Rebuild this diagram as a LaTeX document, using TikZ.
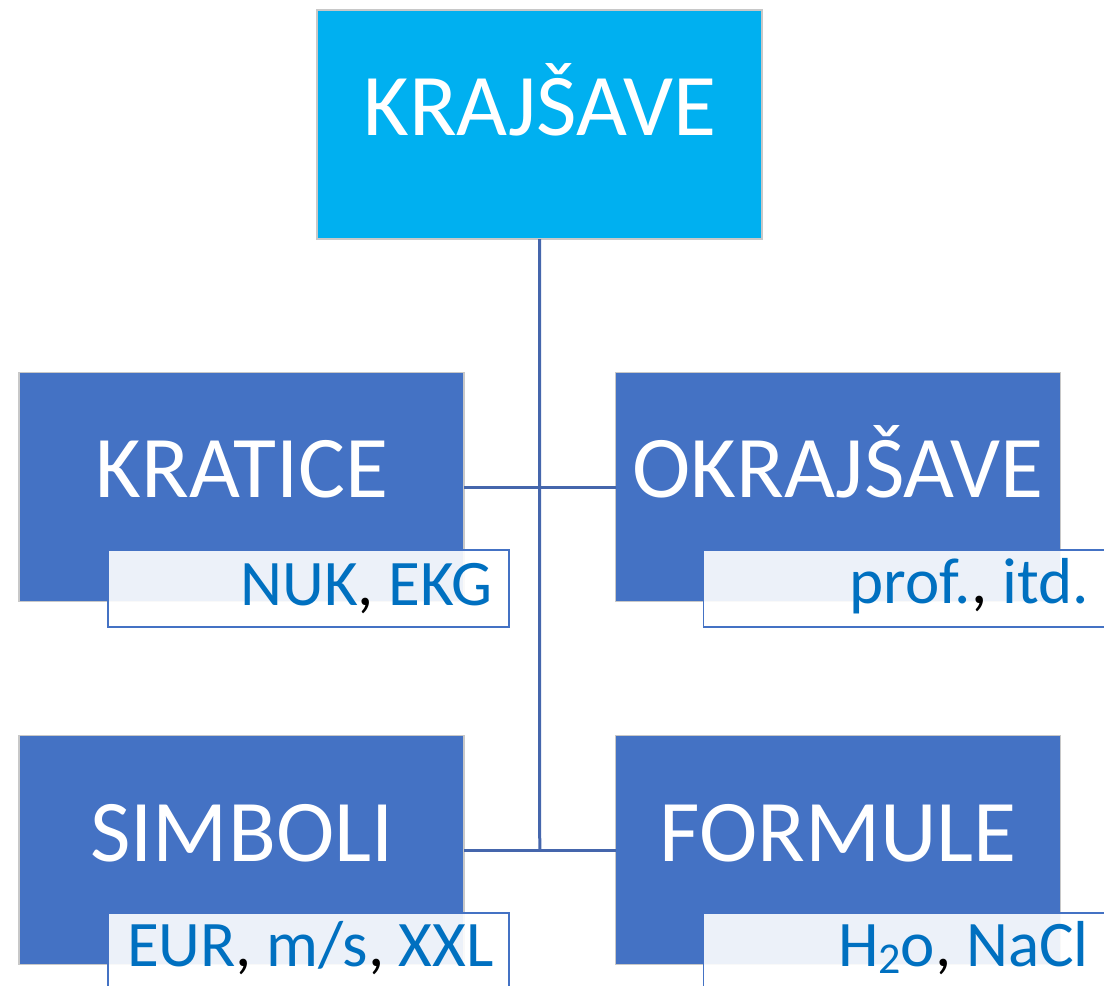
\documentclass[tikz,border=0pt]{standalone}
\usepackage{fontspec}
\setmainfont{Carlito}
\usetikzlibrary{calc}
\definecolor{topblue}{HTML}{00B0F0}
\definecolor{boxblue}{HTML}{4472C4}
\definecolor{txtblue}{HTML}{0070C0}
\definecolor{linkblue}{HTML}{4566AC}
\definecolor{edgegray}{HTML}{C8C8C8}
\begin{document}
\begin{tikzpicture}[x=1pt,y=-1pt,
  bigbox/.style={draw=edgegray,line width=1.2pt,fill=#1,minimum width=445pt,minimum height=229pt,inner sep=0pt,outer sep=0pt},
  subbox/.style={draw=boxblue,line width=1.5pt,fill=white,fill opacity=0.9,text opacity=1,minimum width=401pt,minimum height=77pt,inner sep=0pt,outer sep=0pt},
  bigtxt/.style={text=white,font=\fontsize{88}{100}\selectfont,inner sep=0pt,anchor=base},
  subtxt/.style={text=txtblue,font=\fontsize{65}{75}\selectfont,inner sep=0pt,anchor=base east},
  link/.style={draw=linkblue,line width=3pt}]
\useasboundingbox (0,0) rectangle (1104,986);
\clip (0,0) rectangle (1104,986);
% boxes
\node[bigbox=topblue] (top) at (539.5,124.5) {};
\node[bigbox=boxblue] (kra) at (241.5,487) {};
\node[bigbox=boxblue] (okr) at (838,487) {};
\node[bigbox=boxblue] (sim) at (241.5,850) {};
\node[bigbox=boxblue] (for) at (838,850) {};
% connectors
\coordinate (jb) at ($(sim.east)!0.5!(for.west)$);
\draw[link] (top.south) -- (jb);
\draw[link] (kra.east) -- (okr.west);
\draw[link] (sim.east) -- (for.west);
% sub boxes
\node[subbox] (skra) at (308.5,588.5) {};
\node[subbox] (sokr) at (904,588.5) {};
\node[subbox] (ssim) at (308.5,951.5) {};
\node[subbox] (sfor) at (904,951.5) {};
% labels
\node[bigtxt] (ltop) at (540,135) {KRAJŠAVE};
\node[bigtxt] (lkra) at (242,497) {KRATICE};
\node[bigtxt] (lokr) at (838,497) {OKRAJŠAVE};
\node[bigtxt] (lsim) at (242,861) {SIMBOLI};
\node[bigtxt] (lfor) at (838,861) {FORMULE};
\node[subtxt] (tkra) at (493,605) {NUK{\color{black},} EKG};
\node[subtxt] (tokr) at (1089,603) {prof.{\color{black},} itd.};
\node[subtxt] (tsim) at (494,966) {EUR{\color{black},} m/s{\color{black},} XXL};
\node[subtxt] (tfor) at (1089,966) {H\raisebox{-7pt}{\fontsize{44}{50}\selectfont 2}o{\color{black},} NaCl};
\end{tikzpicture}
\end{document}
